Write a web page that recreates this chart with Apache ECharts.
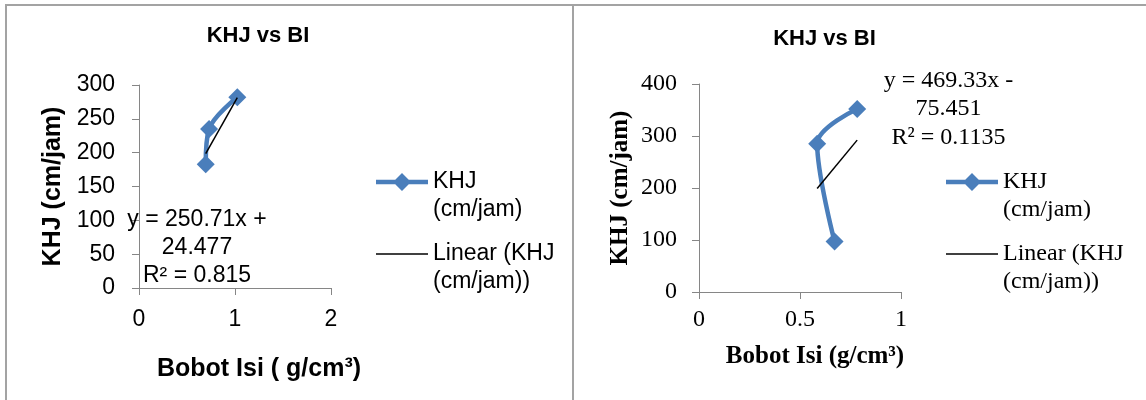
<!DOCTYPE html>
<html><head><meta charset="utf-8">
<script src="https://cdn.jsdelivr.net/npm/echarts@6/dist/echarts.min.js"></script>
<style>
html,body{margin:0;padding:0;background:#fff;width:1146px;height:400px;overflow:hidden;position:relative}
#c1{position:absolute;left:0;top:0;width:573px;height:400px}
#c2{position:absolute;left:573px;top:0;width:573px;height:400px}
.ln{position:absolute;background:#a3a3a3}
</style></head><body>
<div id="c1"></div><div id="c2"></div>
<div class="ln" style="left:5px;top:4px;width:1141px;height:2px"></div>
<div class="ln" style="left:5px;top:4px;width:2px;height:396px"></div>
<div class="ln" style="left:572px;top:4px;width:2px;height:396px"></div>
<script>
// ---- data ----
const titleText = 'KHJ vs BI';
const seriesName = 'KHJ\n(cm/jam)';
const trendName = 'Linear (KHJ\n(cm/jam))';
const yTitle = 'KHJ (cm/jam)';

const leftX = [0.695, 0.73, 1.024];
const leftY = [183, 235, 282];
const leftTrend = [250.71, 24.477];          // slope, intercept
const leftEq = ['y = 250.71x +', '24.477', 'R² = 0.815'];
const leftXTitle = 'Bobot Isi ( g/cm³)';
const leftXTicks = [0, 1, 2];
const leftYTicks = [0, 50, 100, 150, 200, 250, 300];

const rightX = [0.671, 0.585, 0.783];
const rightY = [97, 285, 352];
const rightTrend = [469.33, -75.451];
const rightEq = ['y = 469.33x -', '75.451', 'R² = 0.1135'];
const rightXTitle = 'Bobot Isi (g/cm³)';
const rightXTicks = [0, 0.5, 1];
const rightYTicks = [0, 100, 200, 300, 400];

const SANS = "'Liberation Sans', Arial, sans-serif";
const SERIF = "'Liberation Serif', 'Times New Roman', serif";
const BLUE = '#4a7ebb';
const AX = '#868686';
const ICON_SERIES = 'path://M0,6.75H19.25L26,0L32.75,6.75H52V11.25H32.75L26,18L19.25,11.25H0Z';
const ICON_TREND = 'path://M0,0M0,18M0,8.25H52V9.75H0Z';

function build(cfg) {
  const xs = cfg.x, ys = cfg.y;
  const pts = xs.map((v, i) => [v, ys[i]]);
  const x0 = Math.min(...xs), x1 = Math.max(...xs);
  const trend = [[x0, cfg.trend[0] * x0 + cfg.trend[1]], [x1, cfg.trend[0] * x1 + cfg.trend[1]]];
  const xt = cfg.xTicks, yt = cfg.yTicks;
  return {
    animation: false,
    title: {
      text: titleText, left: cfg.titlePos[0], top: cfg.titlePos[1], textAlign: 'center', padding: 0,
      textStyle: { fontFamily: SANS, fontSize: 22, fontWeight: 'bold', color: '#000' }
    },
    legend: {
      orient: 'vertical', left: cfg.legendPos[0], top: cfg.legendPos[1], padding: 0,
      itemWidth: 52, itemHeight: 18, itemGap: -12,
      data: [{ name: seriesName, icon: ICON_SERIES }, { name: trendName, icon: ICON_TREND }],
      formatter: n => ' \n' + n,
      itemStyle: { borderWidth: 0 },
      textStyle: { fontFamily: cfg.font, fontSize: cfg.legendSize, color: '#000', lineHeight: 28 }
    },
    grid: { left: cfg.grid[0], top: cfg.grid[1], width: cfg.grid[2], height: cfg.grid[3] },
    xAxis: {
      type: 'value', min: xt[0], max: xt[xt.length - 1], interval: xt[1] - xt[0],
      axisLine: { show: true, onZero: false, lineStyle: { color: AX, width: 1 } },
      axisTick: { show: true, length: 7, lineStyle: { color: AX } },
      splitLine: { show: false },
      axisLabel: { margin: cfg.xLabelMargin, fontFamily: cfg.font, fontSize: cfg.tickSize, color: '#000' },
      name: cfg.xTitle, nameLocation: 'middle', nameGap: cfg.xNameGap,
      nameTextStyle: { fontFamily: cfg.font, fontSize: cfg.axTitleSize, fontWeight: 'bold', color: '#000', padding: [0, 0, 0, cfg.xNameShift] }
    },
    yAxis: {
      type: 'value', min: yt[0], max: yt[yt.length - 1], interval: yt[1] - yt[0],
      axisLine: { show: true, onZero: false, lineStyle: { color: AX, width: 1 } },
      axisTick: { show: true, length: 7, lineStyle: { color: AX } },
      splitLine: { show: false },
      axisLabel: { margin: cfg.yLabelMargin, fontFamily: cfg.font, fontSize: cfg.tickSize, color: '#000' },
      name: yTitle, nameLocation: 'middle', nameGap: cfg.yNameGap,
      nameTextStyle: { fontFamily: cfg.font, fontSize: cfg.axTitleSize, fontWeight: 'bold', color: '#000' }
    },
    graphic: [{
      type: 'text', x: cfg.eqPos[0], y: cfg.eqPos[1], z: 50,
      style: { text: cfg.eq.join('\n'), align: 'center', verticalAlign: 'top', lineHeight: cfg.eqLine,
        fontFamily: cfg.font, fontSize: cfg.eqSize, fill: '#000' }
    }],
    series: [{
      name: seriesName, type: 'line', data: pts, smooth: 0.35,
      symbol: 'diamond', symbolSize: 18,
      lineStyle: { color: BLUE, width: 4.5 }, itemStyle: { color: BLUE }, z: 2
    }, {
      name: trendName, type: 'line', data: trend, symbol: 'none',
      lineStyle: { color: '#000', width: 1.5 }, itemStyle: { color: '#000' }, z: 3
    }]
  };
}

const c1 = echarts.init(document.getElementById('c1'), null, { renderer: 'canvas' });
c1.setOption(build({
  x: leftX, y: leftY, trend: leftTrend, eq: leftEq, xTitle: leftXTitle, xTicks: leftXTicks, yTicks: leftYTicks,
  font: SANS, tickSize: 23, legendSize: 23, axTitleSize: 25, eqSize: 23, eqLine: 28,
  titlePos: [258, 25], legendPos: [376, 140], grid: [139, 85, 192, 203],
  xLabelMargin: 20, yLabelMargin: 24, xNameGap: 69, xNameShift: 48, yNameGap: 73,
  eqPos: [197, 206]
}));
const c2 = echarts.init(document.getElementById('c2'), null, { renderer: 'canvas' });
c2.setOption(build({
  x: rightX, y: rightY, trend: rightTrend, eq: rightEq, xTitle: rightXTitle, xTicks: rightXTicks, yTicks: rightYTicks,
  font: SERIF, tickSize: 24, legendSize: 24, axTitleSize: 25, eqSize: 24, eqLine: 28.5,
  titlePos: [251.5, 27.5], legendPos: [373, 140], grid: [126, 84, 202, 208],
  xLabelMargin: 16, yLabelMargin: 22, xNameGap: 52, xNameShift: 30, yNameGap: 66,
  eqPos: [375.5, 66]
}));
</script>
</body></html>
